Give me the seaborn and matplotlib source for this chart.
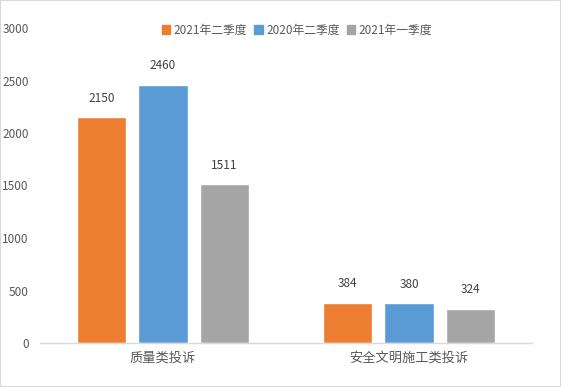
import matplotlib
matplotlib.use("Agg")
import matplotlib.pyplot as plt
import seaborn as sns
import pandas as pd
from matplotlib.patches import Rectangle

categories = ["质量类投诉", "安全文明施工类投诉"]
series = ["2021年二季度", "2020年二季度", "2021年一季度"]
values_2021q2 = [2150, 384]
values_2020q2 = [2460, 380]
values_2021q1 = [1511, 324]
colors = ["#ED7D31", "#5B9BD5", "#A5A5A5"]
y_ticks = [0, 500, 1000, 1500, 2000, 2500, 3000]

df = pd.DataFrame({
    "category": categories * 3,
    "series": [s for s in series for _ in categories],
    "value": values_2021q2 + values_2020q2 + values_2021q1,
})

sns.set_theme(style="white")
plt.rcParams["font.family"] = ["Noto Sans CJK SC", "DejaVu Sans"]

fig = plt.figure(figsize=(5.61, 3.87), dpi=100)
ax = fig.add_axes([40 / 561, 44 / 387, 492 / 561, 315 / 387])

sns.barplot(data=df, x="category", y="value", hue="series", order=categories,
            hue_order=series, palette=colors, width=0.75, gap=0.2,
            saturation=1, ax=ax, legend=False)

for container in ax.containers:
    ax.bar_label(container, fmt="%d", padding=9, fontsize=8.5, color="#404040")

ax.set_ylim(0, 3000)
ax.set_yticks(y_ticks)
ax.set_xlim(-0.5, 1.5)
ax.set_xlabel("")
ax.set_ylabel("")
ax.tick_params(axis="y", length=0, labelsize=8.5, labelcolor="#595959", pad=8)
ax.tick_params(axis="x", length=0, labelsize=9.5, labelcolor="#595959", pad=6)
for side in ["top", "right", "left"]:
    ax.spines[side].set_visible(False)
ax.spines["bottom"].set_color("#D9D9D9")
ax.spines["bottom"].set_linewidth(1)

handles = [Rectangle((0, 0), 1, 1, color=c) for c in colors]
fig.legend(handles, series, loc="center", bbox_to_anchor=(297 / 561, 1 - 30 / 387),
           ncol=3, frameon=False, fontsize=8.5, labelcolor="#595959",
           handlelength=0.7, handleheight=0.7, handletextpad=0.3, columnspacing=0.6)

fig.patches.append(Rectangle((0, 0), 1, 1, transform=fig.transFigure, fill=False,
                             edgecolor="#D9D9D9", linewidth=1.5))

fig.savefig("out.png", dpi=100)
plt.close(fig)
